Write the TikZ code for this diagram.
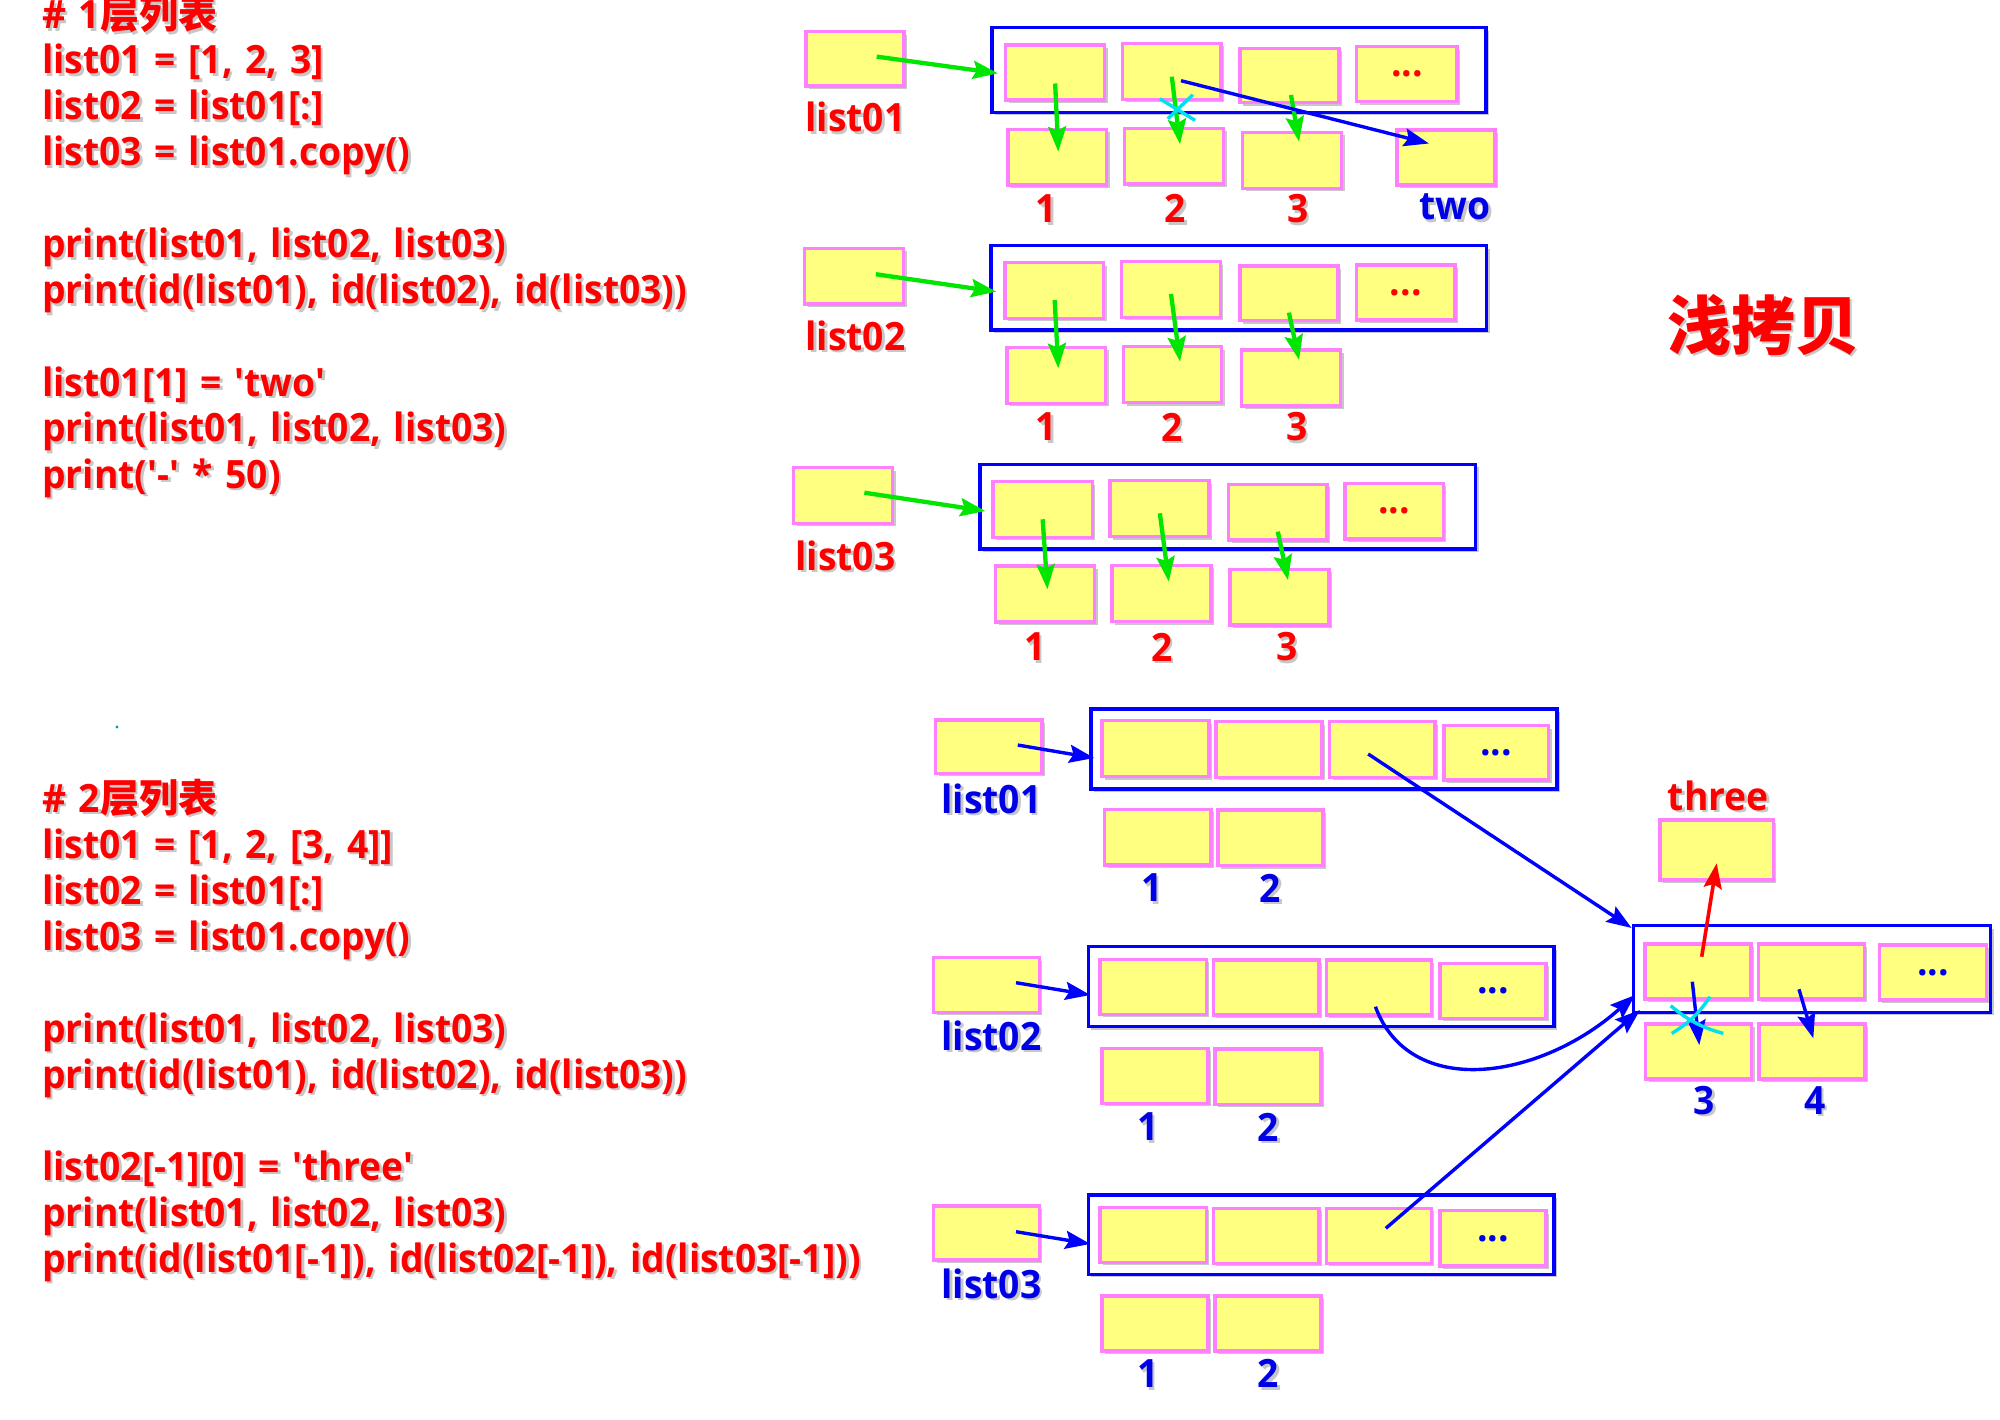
\documentclass[tikz,border=0pt]{standalone}
\usepackage{fontspec}
\setmainfont{Open Sans}[FakeStretch=0.955, WordSpace=1.3]
\newfontfamily\cjk{Noto Sans CJK SC}
\usetikzlibrary{arrows.meta,shadows,calc}
\definecolor{cellfill}{RGB}{255,255,128}
\definecolor{cellline}{RGB}{255,128,255}
\definecolor{frameblue}{RGB}{0,0,255}
\definecolor{txtred}{RGB}{255,0,0}
\definecolor{txtblue}{RGB}{0,0,230}
\definecolor{arrgreen}{RGB}{0,230,0}
\definecolor{xcyan}{RGB}{0,225,235}
\newcommand\shd[1]{\rlap{\kern2.5pt\raisebox{-2.5pt}{\textcolor{black!22}{#1}}}#1}
\newcommand\boxat[7]{%
  \pgfmathsetmacro\bcx{(#3+#5)/2}%
  \pgfmathsetmacro\bcy{(#4+#6)/2}%
  \pgfmathsetmacro\bw{#5-#3}%
  \pgfmathsetmacro\bh{#6-#4}%
  \node[#1, minimum width=\bw pt, minimum height=\bh pt] (#2) at (\bcx,\bcy) {#7};}
\tikzset{
  cell/.style={draw=cellline, fill=cellfill, line width=3.5pt, inner sep=0pt,
    drop shadow={shadow xshift=3pt, shadow yshift=-3pt, opacity=0.22, fill=black}},
  frame/.style={draw=frameblue, fill=white, line width=3.5pt, inner sep=0pt,
    drop shadow={shadow xshift=3pt, shadow yshift=-3pt, opacity=0.22, fill=black}},
  redlab/.style={text=txtred, inner sep=0pt},
  bluelab/.style={text=txtblue, inner sep=0pt},
  code/.style={anchor=base west, text=txtred, inner sep=0pt},
  tip/.style={-{Stealth[length=25pt,width=18pt,inset=4pt]}},
  garrow/.style={draw=arrgreen, line width=4.3pt, tip},
  barrow/.style={draw=frameblue, line width=3.4pt, tip},
  rarrow/.style={draw=txtred, line width=3.6pt, tip},
  xline/.style={draw=xcyan, line width=3.4pt},
}
\begin{document}
\begin{tikzpicture}[x=1pt,y=-1pt, every node/.append style={font=\bfseries\fontsize{39}{46}\selectfont}]
\fill[white] (0,0) rectangle (2000,1420);
\useasboundingbox (0,0) rectangle (2000,1420);

% ---------------- code block 1
\node[code] (c10) at (42,29) {\shd{\# 1{\cjk 层列表}}};
\node[code] (c11) at (42,74) {\shd{list01 = [1, 2, 3]}};
\node[code] (c12) at (42,120) {\shd{list02 = list01[:]}};
\node[code] (c13) at (42,166) {\shd{list03 = list01.copy()}};
\node[code] (c14) at (42,258) {\shd{print(list01, list02, list03)}};
\node[code] (c15) at (42,304) {\shd{print(id(list01), id(list02), id(list03))}};
\node[code] (c16) at (42,396) {\shd{list01[1] = \textquotesingle two\textquotesingle}};
\node[code] (c17) at (42,442) {\shd{print(list01, list02, list03)}};
\node[code] (c18) at (42,488) {\shd{print(\textquotesingle-\textquotesingle{} * 50)}};

% ---------------- code block 2
\node[code] (c20) at (42,812) {\shd{\# 2{\cjk 层列表}}};
\node[code] (c21) at (42,858) {\shd{list01 = [1, 2, [3, 4]]}};
\node[code] (c22) at (42,904) {\shd{list02 = list01[:]}};
\node[code] (c23) at (42,950) {\shd{list03 = list01.copy()}};
\node[code] (c24) at (42,1042) {\shd{print(list01, list02, list03)}};
\node[code] (c25) at (42,1088) {\shd{print(id(list01), id(list02), id(list03))}};
\node[code] (c26) at (42,1180) {\shd{list02[-1][0] = \textquotesingle three\textquotesingle}};
\node[code] (c27) at (42,1226) {\shd{print(list01, list02, list03)}};
\node[code] (c28) at (42,1272) {\shd{print(id(list01[-1]), id(list02[-1]), id(list03[-1]))}};

\fill[xcyan!70!black] (117,727) circle (1.6pt);

% ---------------- title
\node[text=txtred, inner sep=0pt, font=\cjk\bfseries\fontsize{64}{70}\selectfont] (title) at (1763,326) {\shd{浅拷贝}};

% ================= section 1
\boxat{frame}{f1}{992}{27.7}{1486}{112.3}{}
\boxat{cell}{v1}{806}{31.7}{904}{86}{}
\boxat{cell}{a1}{1005.6}{45}{1104.7}{100}{}
\boxat{cell}{a2}{1122.6}{43.3}{1221}{99.3}{}
\boxat{cell}{a3}{1240}{48.3}{1339}{102.7}{}
\boxat{cell,text=txtred}{a4}{1356.7}{46.7}{1457.2}{101.7}{\raisebox{-4pt}{...}}
\boxat{cell}{e1}{1008}{129.3}{1106.6}{185}{}
\boxat{cell}{e2}{1124.5}{128.3}{1223.6}{184}{}
\boxat{cell}{e3}{1242.5}{132.3}{1341.6}{188.3}{}
\boxat{cell}{etwo}{1396.8}{130}{1495}{185}{}
\node[redlab] (l1) at (855.5,118.3) {\shd{list01}};
\node[redlab] (l1a) at (1046.6,210) {\shd{1}};
\node[redlab] (l1b) at (1175.5,210) {\shd{2}};
\node[redlab] (l1c) at (1298,210) {\shd{3}};
\node[bluelab] (l1d) at (1455,208.3) {\shd{two}};
\draw[garrow] ($(v1)+(21.7,-2.2)$) -- ($(a1.west)+(-6,0.8)$);
\draw[garrow] ($(a1)+(0,11)$) -- ($(e1)+(1,-5.5)$);
\draw[garrow] ($(a2)+(0,5.4)$) -- ($(e2)+(6,-12)$);
\draw[garrow] ($(a3)+(1.5,19.5)$) -- ($(e3)+(7,-18.6)$);
\draw[barrow] ($(a2)+(9.2,9.4)$) -- ($(etwo)+(-17,-14)$);
\coordinate (x1) at ($(a2.south)+(6,7)$);
\draw[xline] ($(x1)+(-18,-9.3)$) -- ($(x1)+(17.3,12.3)$);
\draw[xline] ($(x1)+(15,-13.3)$) -- ($(x1)+(-10,10.7)$);

% ================= section 2
\boxat{frame}{f2}{991}{245.7}{1486.5}{330}{}
\boxat{cell}{v2}{804.5}{248.3}{903.6}{304}{}
\boxat{cell}{g1}{1005}{262.7}{1103.7}{318.3}{}
\boxat{cell}{g2}{1121.7}{261.7}{1220.3}{317.3}{}
\boxat{cell}{g3}{1240}{266}{1337.8}{320.7}{}
\boxat{cell,text=txtred}{g4}{1356.7}{265}{1454.8}{320}{\raisebox{-4pt}{...}}
\boxat{cell}{h1}{1007}{347.3}{1105.6}{403.3}{}
\boxat{cell}{h2}{1123.5}{346.7}{1221.7}{402.7}{}
\boxat{cell}{h3}{1241.5}{350}{1340.6}{406}{}
\node[redlab] (l2) at (855.5,336.7) {\shd{list02}};
\node[redlab] (l2a) at (1046.6,428.3) {\shd{1}};
\node[redlab] (l2b) at (1171.7,428.3) {\shd{2}};
\node[redlab] (l2c) at (1296.7,428.3) {\shd{3}};
\draw[garrow] ($(v2)+(21.8,-1.9)$) -- ($(g1.west)+(-7,1.2)$);
\draw[garrow] ($(g1)+(0.3,9.5)$) -- ($(h1)+(2,-7)$);
\draw[garrow] ($(g2)+(0,4.5)$) -- ($(h2)+(7.4,-13)$);
\draw[garrow] ($(g3)+(0,19.3)$) -- ($(h3)+(8,-18)$);

% ================= section 3
\boxat{frame}{f3}{980}{464.3}{1475.5}{549}{}
\boxat{cell}{v3}{793.6}{467.7}{892.7}{523.3}{}
\boxat{cell}{k1}{993}{481.7}{1092.3}{537.3}{}
\boxat{cell}{k2}{1109.8}{480.7}{1208.9}{536.7}{}
\boxat{cell}{k3}{1228.7}{484.3}{1326.9}{540}{}
\boxat{cell,text=txtred}{k4}{1344.8}{483.3}{1443.4}{539}{\raisebox{-4pt}{...}}
\boxat{cell}{m1}{995.6}{566}{1094.7}{622}{}
\boxat{cell}{m2}{1112}{565.3}{1211}{621.7}{}
\boxat{cell}{m3}{1230}{569.3}{1329}{625}{}
\node[redlab] (l3) at (845.5,556.7) {\shd{list03}};
\node[redlab] (l3a) at (1035,648.3) {\shd{1}};
\node[redlab] (l3b) at (1161.7,648.3) {\shd{2}};
\node[redlab] (l3c) at (1286.7,648.3) {\shd{3}};
\draw[garrow] ($(v3)+(21.2,-2.8)$) -- ($(k1.west)+(-6,1.5)$);
\draw[garrow] ($(k1)+(0,9.8)$) -- ($(m1)+(2.3,-4.7)$);
\draw[garrow] ($(k2)+(0.5,4.6)$) -- ($(m2)+(7.3,-11.8)$);
\draw[garrow] ($(k3)+(0,19.5)$) -- ($(m3)+(8.5,-17)$);

% ================= bottom: nested list
\boxat{frame}{fN}{1633.3}{925.7}{1990.7}{1012.3}{}
\boxat{cell}{three}{1660}{820}{1773.3}{880}{}
\boxat{cell}{n1}{1645}{944}{1751}{999}{}
\boxat{cell}{n2}{1758.3}{944}{1864.3}{999}{}
\boxat{cell,text=txtblue}{n3}{1879.3}{945}{1986.7}{1000}{\raisebox{-4pt}{...}}
\boxat{cell}{p1}{1645.7}{1024}{1751.7}{1079}{}
\boxat{cell}{p2}{1759}{1024}{1865}{1079}{}
\node[redlab] (lthree) at (1718.3,796.7) {\shd{three}};
\node[bluelab] (lp1) at (1704.3,1101.7) {\shd{3}};
\node[bluelab] (lp2) at (1815,1101.7) {\shd{4}};

% ================= bottom: list01
\boxat{frame}{fB1}{1091}{709}{1557}{789}{}
\boxat{cell}{vB1}{935.7}{720}{1042}{773.3}{}
\boxat{cell}{q1}{1102}{720.7}{1209}{776.7}{}
\boxat{cell}{q2}{1216}{721.7}{1322}{777.3}{}
\boxat{cell}{q3}{1329.5}{721.7}{1434.8}{777.3}{}
\boxat{cell,text=txtblue}{q4}{1443.8}{725.7}{1548.6}{780}{\raisebox{-4pt}{...}}
\boxat{cell}{r1}{1104.5}{809.3}{1211}{865}{}
\boxat{cell}{r2}{1218}{810}{1323}{865.7}{}
\node[bluelab] (lB1) at (991.5,800) {\shd{list01}};
\node[bluelab] (lB1a) at (1152,889.3) {\shd{1}};
\node[bluelab] (lB1b) at (1270.5,889.3) {\shd{2}};

% ================= bottom: list02
\boxat{frame}{fB2}{1088.4}{946.7}{1554}{1026.7}{}
\boxat{cell}{vB2}{933.5}{957.7}{1039.3}{1012.3}{}
\boxat{cell}{s1}{1100}{959.3}{1206.3}{1014.3}{}
\boxat{cell}{s2}{1213.4}{960}{1318.8}{1015}{}
\boxat{cell}{s3}{1326.3}{960}{1431.3}{1015}{}
\boxat{cell,text=txtblue}{s4}{1440}{963.3}{1546}{1018.3}{\raisebox{-4pt}{...}}
\boxat{cell}{t1}{1101.8}{1048.3}{1208}{1103.3}{}
\boxat{cell}{t2}{1215}{1049}{1321}{1104.3}{}
\node[bluelab] (lB2) at (991.5,1036.7) {\shd{list02}};
\node[bluelab] (lB2a) at (1147.8,1128.3) {\shd{1}};
\node[bluelab] (lB2b) at (1268.3,1128.3) {\shd{2}};

% ================= bottom: list03
\boxat{frame}{fB3}{1088.4}{1195}{1554}{1274.3}{}
\boxat{cell}{vB3}{933.5}{1206}{1039.3}{1260}{}
\boxat{cell}{u1}{1100}{1207.3}{1206.3}{1262.3}{}
\boxat{cell}{u2}{1213.4}{1208.3}{1318.8}{1263.3}{}
\boxat{cell}{u3}{1326.3}{1208.3}{1431.3}{1263.3}{}
\boxat{cell,text=txtblue}{u4}{1440}{1210.7}{1546}{1266}{\raisebox{-4pt}{...}}
\boxat{cell}{w1}{1101.8}{1296}{1208}{1351}{}
\boxat{cell}{w2}{1215}{1296}{1321}{1351}{}
\node[bluelab] (lB3) at (991.5,1285) {\shd{list03}};
\node[bluelab] (lB3a) at (1147.8,1375) {\shd{1}};
\node[bluelab] (lB3b) at (1268.3,1375) {\shd{2}};

% ================= bottom connectors
\draw[barrow] ($(vB1)+(29,-1.6)$) -- ($(fB1.west)+(5,9)$);
\draw[barrow] ($(vB2)+(29.6,-2.3)$) -- ($(fB2.west)+(3.6,8.3)$);
\draw[barrow] ($(vB3)+(29.6,-1.3)$) -- ($(fB3.west)+(3.6,9.3)$);
\draw[barrow] ($(q3)+(-14,4.5)$) -- ($(fN.north west)+(0,4)$);
\draw[barrow] ($(s3)+(-3.4,19.2)$) .. controls (1410,1100) and (1540,1080) .. ($(fN.south west)+(3.4,-19)$);
\draw[barrow] ($(u3)+(7,-7.5)$) -- ($(fN.south west)+(8.4,-4)$);
\draw[rarrow] ($(n1)+(3.7,-14.8)$) -- ($(three)+(0,13.3)$);
\draw[barrow] ($(n1)+(-5.7,10.2)$) -- ($(p1)+(0.6,-6.5)$);
\draw[barrow] ($(n2)+(-12.3,17.8)$) -- ($(p2)+(1.3,-13.2)$);
\coordinate (x2) at ($(n1.south)+(-8,16)$);
\draw[xline] ($(x2)+(-19.3,-11)$) to[bend right=12] ($(x2)+(33.3,16.7)$);
\draw[xline] ($(x2)+(20,-20)$) to[bend left=12] ($(x2)+(-18.3,16.7)$);
\end{tikzpicture}
\end{document}
